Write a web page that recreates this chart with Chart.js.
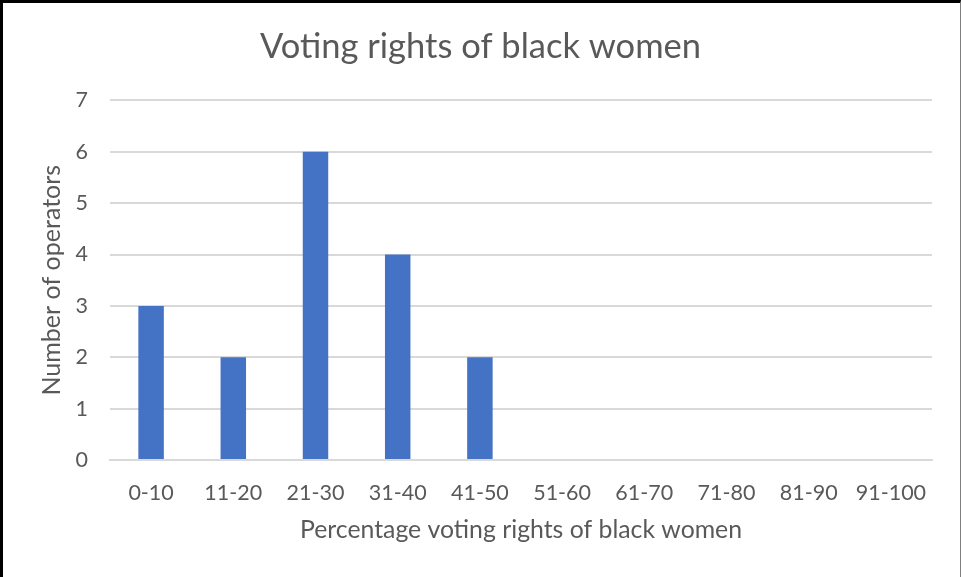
<!DOCTYPE html>
<html>
<head>
<meta charset="utf-8">
<script src="https://cdn.jsdelivr.net/npm/chart.js@4"></script>
<style>
  html, body { margin: 0; padding: 0; background: #fff; }
  #wrap { position: relative; width: 961px; height: 577px; }
  #chart { position: absolute; left: 0; top: 0; }
  #frame {
    position: absolute; left: 0; top: 0; width: 961px; height: 577px;
    box-sizing: border-box; pointer-events: none;
    border-left: 3px solid #000; border-top: 3px solid #000;
    border-right: 1px solid #7f7f7f;
  }
</style>
</head>
<body>
<div id="wrap">
  <canvas id="chart" width="961" height="577"></canvas>
  <div id="frame"></div>
</div>
<script>
const categories = ["0-10", "11-20", "21-30", "31-40", "41-50", "51-60", "61-70", "71-80", "81-90", "91-100"];
const operators = [3, 2, 6, 4, 2, 0, 0, 0, 0, 0];

const textColor = "#595959";
const gridColor = "#d9d9d9";
const fontFamily = "Lato, 'Open Sans', sans-serif";

new Chart(document.getElementById("chart"), {
  type: "bar",
  data: {
    labels: categories,
    datasets: [
      {
        label: "Number of operators",
        data: operators,
        backgroundColor: "#4472c4",
        borderWidth: 0,
        categoryPercentage: 1,
        barPercentage: 0.31,
      },
    ],
  },
  options: {
    responsive: false,
    animation: false,
    // equal side padding keeps the chart title centred on the canvas
    layout: { padding: { left: 29, right: 29, top: 0, bottom: 20 } },
    plugins: {
      legend: { display: false },
      tooltip: { enabled: false },
      title: {
        display: true,
        text: "Voting rights of black women",
        color: textColor,
        font: { family: fontFamily, size: 34.5, weight: "normal", lineHeight: 1.2 },
        padding: { top: 26, bottom: 33 },
      },
    },
    scales: {
      x: {
        grid: { display: false, drawTicks: false },
        border: { display: true, color: gridColor, width: 2 },
        ticks: { color: textColor, font: { family: fontFamily, size: 21.5 }, padding: 20, maxRotation: 0, autoSkip: false },
        title: {
          display: true,
          text: "Percentage voting rights of black women",
          color: textColor,
          font: { family: fontFamily, size: 24.8 },
          padding: { top: 0, bottom: 12 },
        },
        afterFit(scale) { scale.height = 97; },
      },
      y: {
        min: 0,
        max: 7,
        ticks: { stepSize: 1, color: textColor, font: { family: fontFamily, size: 21.5 }, padding: 22 },
        grid: { color: gridColor, lineWidth: 2, drawTicks: false },
        border: { display: false },
        title: {
          display: true,
          text: "Number of operators",
          color: textColor,
          font: { family: fontFamily, size: 25 },
          padding: { top: 8, bottom: 0 },
        },
        afterFit(scale) { scale.width = 81; },
      },
    },
  },
});
</script>
</body>
</html>
